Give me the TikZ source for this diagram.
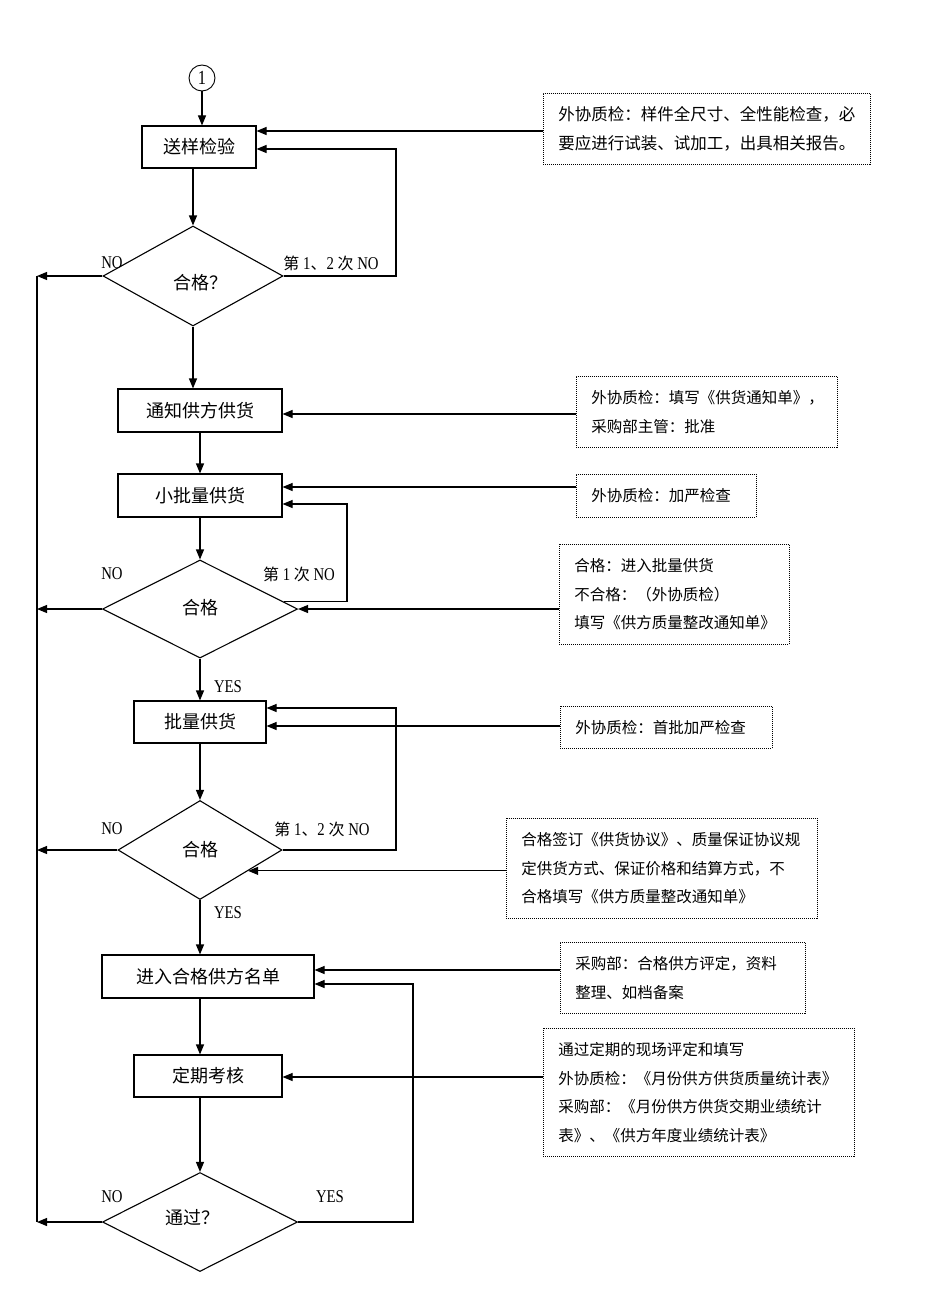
\documentclass[tikz,border=0pt]{standalone}
\usepackage{fontspec}
\setmainfont{Liberation Serif}[FakeStretch=0.82]
\newfontfamily\cjk{Noto Sans CJK SC}
\usetikzlibrary{arrows.meta,shapes.geometric,calc}
\newcommand\zh[1]{{\cjk\fontsize{16}{18}\selectfont #1}}
\begin{document}
\begin{tikzpicture}[x=1pt,y=-1pt,
  ln/.style={line width=1.1pt},
  arr/.style={ln,-{Triangle[length=10pt,width=8pt]}},
  proc/.style={draw,ln,rectangle,inner sep=0pt,font=\fontsize{18}{20}\selectfont\cjk},
  dec/.style={draw,ln,diamond,inner sep=0pt},
  note/.style={draw,line width=0.8pt,dash pattern=on 1pt off 1pt,rectangle,anchor=north west,
    inner xsep=15pt,inner ysep=0pt,align=left,font=\fontsize{15.5}{28.5}\selectfont\cjk},
  lbl/.style={inner sep=0pt,font=\fontsize{18}{20}\selectfont},
  dtext/.style={inner sep=0pt,font=\fontsize{18}{20}\selectfont\cjk}]
\useasboundingbox (0,0) rectangle (926,1300);

% main flow
\node[circle,draw,line width=0.9pt,inner sep=0pt,minimum size=26pt,font=\fontsize{20}{20}\selectfont] (C) at (202,78) {1};
\node[proc,minimum width=114pt,minimum height=42pt] (B1) at (199,147) {送样检验};
\node[dec,minimum width=180pt,minimum height=100pt] (D1) at (193,276) {};
\node[dtext] (T1) at (200,283) {合格？};
\node[proc,minimum width=164pt,minimum height=43pt] (B2) at (200,410.5) {通知供方供货};
\node[proc,minimum width=164pt,minimum height=43pt] (B3) at (200,495.5) {小批量供货};
\node[dec,minimum width=195pt,minimum height=98pt] (D2) at (200,609) {};
\node[dtext] (T2) at (200,608) {合格};
\node[proc,minimum width=132pt,minimum height=42pt] (B4) at (200,722) {批量供货};
\node[dec,minimum width=164pt,minimum height=99pt] (D3) at (200,850) {};
\node[dtext] (T3) at (200,850) {合格};
\node[proc,minimum width=212pt,minimum height=43pt] (B5) at (208,976.5) {进入合格供方名单};
\node[proc,minimum width=148pt,minimum height=42pt] (B6) at (208,1076) {定期考核};
\node[dec,minimum width=195pt,minimum height=99pt] (D4) at (200,1222) {};
\node[dtext] (T4) at (192,1218) {通过？};

% notes
\node[note,text width=297pt,minimum height=71pt,font=\fontsize{16.5}{28.5}\selectfont\cjk] (A1) at (543,93) {外协质检：样件全尺寸、全性能检查，必\\要应进行试装、试加工，出具相关报告。};
\node[note,text width=231pt,minimum height=71pt] (A2) at (576,376) {外协质检：填写《供货通知单》，\\采购部主管：批准};
\node[note,text width=150pt,minimum height=43pt] (A3) at (576,474) {外协质检：加严检查};
\node[note,text width=200pt,minimum height=100pt] (A4) at (559,544) {合格：进入批量供货\\不合格：（外协质检）\\填写《供方质量整改通知单》};
\node[note,text width=182pt,minimum height=42pt] (A5) at (560,706) {外协质检：首批加严检查};
\node[note,text width=281pt,minimum height=100pt] (A6) at (506,818) {合格签订《供货协议》、质量保证协议规\\定供货方式、保证价格和结算方式，不\\合格填写《供方质量整改通知单》};
\node[note,text width=215pt,minimum height=71pt] (A7) at (560,942) {采购部：合格供方评定，资料\\整理、如档备案};
\node[note,text width=281pt,minimum height=128pt] (A8) at (543,1028) {通过定期的现场评定和填写\\外协质检：《月份供方供货质量统计表》\\采购部：《月份供方供货交期业绩统计\\表》、《供方年度业绩统计表》};

% labels
\node[lbl] (N1) at (112,263) {NO};
\node[lbl] (S1) at (331,263) {\zh{第} 1\zh{、}2 \zh{次} NO};
\node[lbl] (N2) at (112,574) {NO};
\node[lbl] (S2) at (299,574) {\zh{第} 1 \zh{次} NO};
\node[lbl] (Y1) at (228,687) {YES};
\node[lbl] (N3) at (112,829) {NO};
\node[lbl] (S3) at (322,829) {\zh{第} 1\zh{、}2 \zh{次} NO};
\node[lbl] (Y2) at (228,913) {YES};
\node[lbl] (N4) at (112,1197) {NO};
\node[lbl] (Y4) at (330,1197) {YES};

% main arrows
\draw[arr] (C.south) -- (C.south |- B1.north);
\draw[arr] (B1.south -| D1.north) -- (D1.north);
\draw[arr] (D1.south) -- (D1.south |- B2.north);
\draw[arr] (B2.south) -- (B3.north);
\draw[arr] (B3.south) -- (D2.north);
\draw[arr] (D2.south) -- (B4.north);
\draw[arr] (B4.south) -- (D3.north);
\draw[arr] (D3.south) -- (D3.south |- B5.north);
\draw[arr] (B5.south -| D4.north) -- (B6.north -| D4.north);
\draw[arr] (B6.south -| D4.north) -- (D4.north);

% left rail
\coordinate (L1) at (37,276);
\coordinate (L4) at (37,1222);
\draw[ln] (L1) -- (L4);
\draw[arr] (D1.west) -- (D1.west -| L1);
\draw[arr] (D2.west) -- (D2.west -| L1);
\draw[arr] (D3.west) -- (D3.west -| L1);
\draw[arr] (D4.west) -- (D4.west -| L1);

% loops
\coordinate (R1) at (396,149);
\draw[arr] (D1.east) -| (R1) -- (R1 -| B1.east);
\coordinate (R2) at (347,504);
\coordinate (E2) at ($(D2.north)!0.857!(D2.east)$);
\draw[arr] (E2) -| (R2) -- (R2 -| B3.east);
\coordinate (R3) at (396,708);
\draw[arr] (D3.east) -| (R3) -- (R3 -| B4.east);
\coordinate (R4) at (413,984);
\draw[arr] (D4.east) -| (R4) -- (R4 -| B5.east);

% note connectors
\coordinate (P1) at (0,131);
\draw[arr] (A1.west |- P1) -- (B1.east |- P1);
\coordinate (P2) at (0,414);
\draw[arr] (A2.west |- P2) -- (B2.east |- P2);
\coordinate (P3) at (0,487);
\draw[arr] (A3.west |- P3) -- (B3.east |- P3);
\draw[arr] (A4.west |- D2.east) -- (D2.east);
\coordinate (P5) at (0,726);
\draw[arr] (A5.west |- P5) -- (B4.east |- P5);
\coordinate (E3) at ($(D3.east)!0.417!(D3.south)$);
\draw[arr] (A6.west |- E3) -- (E3);
\coordinate (P7) at (0,970);
\draw[arr] (A7.west |- P7) -- (B5.east |- P7);
\coordinate (P8) at (0,1077);
\draw[arr] (A8.west |- P8) -- (B6.east |- P8);
\end{tikzpicture}
\end{document}
